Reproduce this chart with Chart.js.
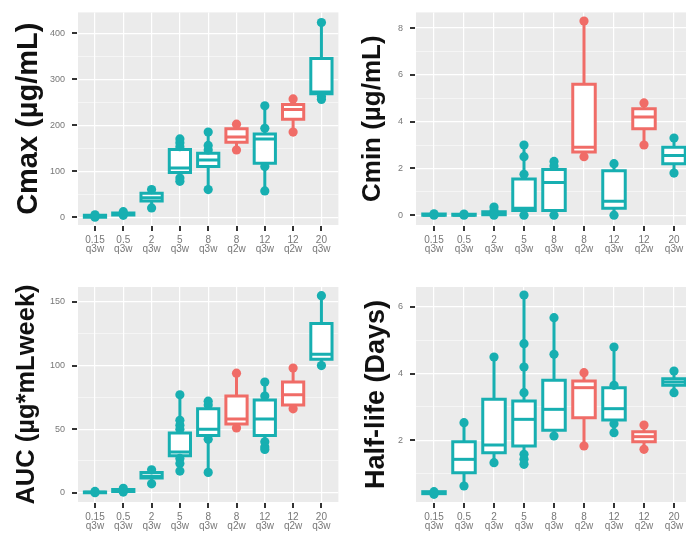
<!DOCTYPE html>
<html>
<head>
<meta charset="utf-8">
<script src="https://cdn.jsdelivr.net/npm/chart.js@4.4.1/dist/chart.umd.min.js"></script>
<style>
html, body { margin: 0; padding: 0; background: #fff; width: 686px; height: 545px; overflow: hidden; }
canvas { position: absolute; }
</style>
</head>
<body>
<canvas id="cmax" width="343" height="272" style="left:0;top:0"></canvas>
<canvas id="cmin" width="360" height="272" style="left:343px;top:0"></canvas>
<canvas id="auc" width="343" height="273" style="left:0;top:272px"></canvas>
<canvas id="half" width="360" height="273" style="left:343px;top:272px"></canvas>
<script>
// categories (dose mg/kg + regimen)
const doses = ['0.15', '0.5', '2', '5', '8', '8', '12', '12', '20'];
const regimens = ['q3w', 'q3w', 'q3w', 'q3w', 'q3w', 'q2w', 'q3w', 'q2w', 'q3w'];

// Cmax
const cmaxQ1 = [0, 5, 35, 97, 110, 163, 117, 213, 268];
const cmaxMed = [2, 7, 42, 107, 124, 174, 170, 234, 272];
const cmaxQ3 = [4, 9, 52, 147, 139, 192, 181, 245, 345];
const cmaxLo = [0, 4, 20, 78, 60, 146, 57, 185, 256];
const cmaxHi = [5, 12, 60, 170, 185, 202, 242, 257, 423];
const cmaxPts = [[0, 2, 5], [4, 12], [20, 60], [170, 162, 153, 85, 78], [185, 156, 146, 60], [202, 146], [242, 193, 110, 57], [257, 185], [423, 256, 262]];

// Cmin
const cminQ1 = [0, 0, 0.02, 0.2, 0.2, 2.7, 0.3, 3.7, 2.2];
const cminMed = [0, 0, 0.08, 0.3, 1.4, 2.9, 0.6, 4.2, 2.55];
const cminQ3 = [0.05, 0.04, 0.15, 1.55, 1.95, 5.6, 1.9, 4.55, 2.9];
const cminLo = [0, 0, 0, 0, 0, 2.5, 0, 3.0, 1.8];
const cminHi = [0.08, 0.06, 0.35, 3.0, 2.3, 8.3, 2.2, 4.8, 3.3];
const cminPts = [[0, 0.06], [0, 0.05], [0.35, 0.2, 0], [3.0, 2.5, 1.75, 0], [2.3, 2.1, 0], [8.3, 2.5], [2.2, 0], [4.8, 3.0], [3.3, 1.8]];

// AUC
const aucQ1 = [0, 1, 11.5, 29, 45, 54, 45, 69, 105];
const aucMed = [0.3, 1.8, 13, 32, 50, 58, 58, 77, 109];
const aucQ3 = [0.6, 2.5, 16, 47, 66, 76, 73, 87, 133];
const aucLo = [0, 0.5, 7, 17, 16, 51, 34, 66, 100];
const aucHi = [1, 3.5, 18, 77, 72, 94, 87, 98, 155];
const aucPts = [[0, 1], [0.5, 3.5], [7, 18], [77, 57, 53, 50, 27, 23, 17], [72, 69, 42, 16], [94, 51], [87, 76, 40, 36, 34], [98, 66], [155, 100]];

// Half-life
const halfQ1 = [0.4, 1.03, 1.63, 1.83, 2.3, 2.68, 2.61, 1.96, 3.65];
const halfMed = [0.42, 1.43, 1.86, 2.63, 2.93, 3.58, 2.95, 2.11, 3.75];
const halfQ3 = [0.46, 1.96, 3.23, 3.18, 3.8, 3.78, 3.58, 2.26, 3.85];
const halfLo = [0.38, 0.63, 1.33, 1.28, 2.13, 1.83, 2.23, 1.73, 3.43];
const halfHi = [0.48, 2.53, 4.5, 6.36, 5.68, 4.03, 4.8, 2.46, 4.08];
const halfPts = [[0.38, 0.46], [2.53, 0.63], [4.5, 1.33], [6.36, 4.9, 4.2, 3.43, 1.58, 1.43, 1.28], [5.68, 4.58, 2.13], [4.03, 1.83], [4.8, 3.65, 2.5, 2.23], [2.46, 1.73], [4.08, 3.43]];

const TEAL = '#17AFB1';
const RED = '#F06C67';
const colorOf = i => regimens[i] === 'q2w' ? RED : TEAL;

function makeChart(id, p) {
    const pts = [], ptCols = [];
    p.pts.forEach((arr, i) => arr.forEach(v => { pts.push({ x: i + 1, y: v }); ptCols.push(colorOf(i)); }));
    const isMajor = v => Math.abs(v / p.major - Math.round(v / p.major)) < 1e-6;

    // panel background, boxes + whiskers, tick marks, all placed through the chart scales
    const boxes = {
        id: 'boxes_' + id,
        beforeDraw(chart) {
            const a = chart.chartArea, ctx = chart.ctx;
            ctx.save();
            ctx.fillStyle = '#EBEBEB';
            ctx.fillRect(a.left, a.top, a.right - a.left, a.bottom - a.top);
            ctx.restore();
        },
        beforeDatasetsDraw(chart) {
            const xs = chart.scales.x, ys = chart.scales.y, ctx = chart.ctx, a = chart.chartArea;
            const half = (xs.getPixelForValue(2) - xs.getPixelForValue(1)) * 0.375;
            ctx.save();
            ctx.beginPath();
            ctx.rect(a.left, a.top, a.right - a.left, a.bottom - a.top);
            ctx.clip();
            ctx.lineWidth = 3;
            for (let i = 0; i < doses.length; i++) {
                const cx = xs.getPixelForValue(i + 1);
                const yq1 = ys.getPixelForValue(p.q1[i]), yq3 = ys.getPixelForValue(p.q3[i]);
                const ymed = ys.getPixelForValue(p.med[i]);
                ctx.strokeStyle = colorOf(i);
                ctx.beginPath();
                ctx.moveTo(cx, ys.getPixelForValue(p.lo[i])); ctx.lineTo(cx, yq1);
                ctx.moveTo(cx, yq3); ctx.lineTo(cx, ys.getPixelForValue(p.hi[i]));
                ctx.stroke();
                ctx.fillStyle = '#fff';
                ctx.beginPath();
                ctx.rect(cx - half, yq3, half * 2, yq1 - yq3);
                ctx.fill();
                ctx.stroke();
                ctx.beginPath();
                ctx.moveTo(cx - half, ymed); ctx.lineTo(cx + half, ymed);
                ctx.stroke();
            }
            ctx.restore();
        },
        afterDraw(chart) {
            const xs = chart.scales.x, ys = chart.scales.y, ctx = chart.ctx, a = chart.chartArea;
            ctx.save();
            ctx.strokeStyle = '#333';
            ctx.lineWidth = 2;
            ctx.beginPath();
            xs.ticks.forEach(t => {
                const px = Math.round(xs.getPixelForValue(t.value));
                ctx.moveTo(px, a.bottom + 1); ctx.lineTo(px, a.bottom + 6);
            });
            ys.ticks.forEach(t => {
                if (!isMajor(t.value)) return;
                const py = Math.round(ys.getPixelForValue(t.value));
                ctx.moveTo(a.left - 6, py); ctx.lineTo(a.left - 1, py);
            });
            ctx.stroke();
            ctx.restore();
        }
    };

    return new Chart(document.getElementById(id), {
        type: 'scatter',
        data: {
            datasets: [{
                data: pts,
                pointBackgroundColor: ptCols,
                pointBorderWidth: 0,
                pointRadius: 4.6,
                pointHoverRadius: 4.6
            }]
        },
        plugins: [boxes],
        options: {
            responsive: false,
            animation: false,
            layout: { padding: { top: p.top, right: p.right, left: 0, bottom: 0 } },
            plugins: { legend: { display: false }, tooltip: { enabled: false } },
            scales: {
                x: {
                    type: 'linear',
                    min: 0.4,
                    max: 9.6,
                    afterBuildTicks: s => { s.ticks = doses.map((d, i) => ({ value: i + 1 })); },
                    afterFit: s => { s.height = p.xh; },
                    border: { display: false },
                    grid: { color: '#fff', lineWidth: 1.2, tickColor: 'rgba(0,0,0,0)', tickLength: 6 },
                    ticks: {
                        autoSkip: false,
                        maxRotation: 0,
                        padding: 4,
                        color: '#777',
                        font: { family: 'Liberation Sans, Arial, sans-serif', size: 10, lineHeight: 0.95 },
                        callback: v => [doses[v - 1], regimens[v - 1]]
                    }
                },
                y: {
                    min: p.yMin,
                    max: p.yMax,
                    afterBuildTicks: s => {
                        const t = [];
                        for (let v = p.tickStart; v <= p.yMax + 1e-9; v += p.major / 2) t.push({ value: +v.toFixed(4) });
                        s.ticks = t;
                    },
                    afterFit: s => { s.width = p.yw; },
                    border: { display: false },
                    grid: {
                        color: '#fff',
                        lineWidth: c => isMajor(c.tick.value) ? 1.2 : 0.5,
                        tickColor: 'rgba(0,0,0,0)',
                        tickLength: 6
                    },
                    ticks: {
                        padding: 7,
                        color: '#777',
                        font: { family: 'Liberation Sans, Arial, sans-serif', size: 9 },
                        callback: v => isMajor(v) ? String(v) : ''
                    },
                    title: {
                        display: true,
                        text: p.title,
                        color: '#111',
                        padding: { top: p.tpad, bottom: 0 },
                        font: { family: 'Liberation Sans, Arial, sans-serif', size: p.tsize, weight: 'bold', lineHeight: 1.2 }
                    }
                }
            }
        }
    });
}

makeChart('cmax', { title: 'Cmax (µg/mL)', tsize: 29, tpad: 11.6, q1: cmaxQ1, med: cmaxMed, q3: cmaxQ3, lo: cmaxLo, hi: cmaxHi, pts: cmaxPts,
    yMin: -17, yMax: 445, major: 100, tickStart: 0, top: 8, right: 2, yw: 78, xh: 47 });
makeChart('cmin', { title: 'Cmin (µg/mL)', tsize: 26, tpad: 14.4, q1: cminQ1, med: cminMed, q3: cminQ3, lo: cminLo, hi: cminHi, pts: cminPts,
    yMin: -0.42, yMax: 8.67, major: 2, tickStart: 0, top: 8, right: 11, yw: 73, xh: 47 });
makeChart('auc', { title: 'AUC (µg*mLweek)', tsize: 25.5, tpad: 11.7, q1: aucQ1, med: aucMed, q3: aucQ3, lo: aucLo, hi: aucHi, pts: aucPts,
    yMin: -7.3, yMax: 161.8, major: 50, tickStart: 0, top: 15, right: 2, yw: 78, xh: 43 });
makeChart('half', { title: 'Half-life (Days)', tsize: 27, tpad: 17.8, q1: halfQ1, med: halfMed, q3: halfQ3, lo: halfLo, hi: halfHi, pts: halfPts,
    yMin: 0.15, yMax: 6.6, major: 2, tickStart: 1, top: 15, right: 11, yw: 73, xh: 43 });
</script>
</body>
</html>
